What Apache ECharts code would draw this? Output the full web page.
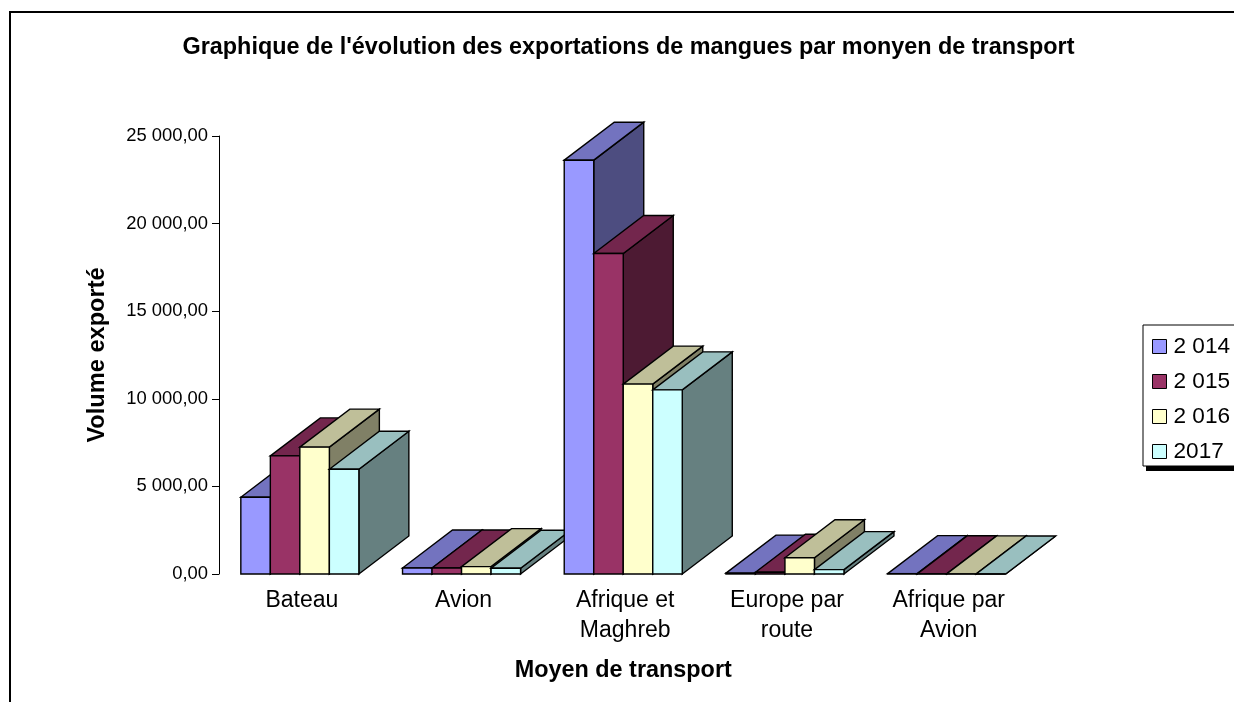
<!DOCTYPE html>
<html><head><meta charset="utf-8">
<style>html,body{margin:0;padding:0;background:#fff}#c{width:1234px;height:702px}</style>
<script src="https://cdn.jsdelivr.net/npm/echarts@6/dist/echarts.min.js"></script>
</head><body><div id="c"></div>
<script>
const categories = ['Bateau','Avion','Afrique et\nMaghreb','Europe par\nroute','Afrique par\nAvion'];
const yearNames = ['2 014','2 015','2 016','2017'];
const values2014 = [4380, 340, 23620, 50, 20];
const values2015 = [6740, 340, 18290, 100, 10];
const values2016 = [7240, 420, 10840, 930, 5];
const values2017 = [5980, 325, 10510, 250, 0];
const frontColors = ['#9999FF','#993366','#FFFFCC','#CCFFFF'];
const topColors = ['#7373BF','#73264D','#BFBF99','#99BFBF'];
const sideColors = ['#4D4D80','#4D1A33','#808066','#668080'];
const allValues = [values2014, values2015, values2016, values2017];
const DEPTH_X = 50, DEPTH_Y = 38, CLUSTER_RATIO = 0.73;
const FONT = '"Liberation Sans", Arial, sans-serif';

function makeRender(s) {
  return function (params, api) {
    const cat = api.value(0), v = api.value(1);
    const base = api.coord([cat, 0]), head = api.coord([cat, v]);
    const w = api.size([1, 0])[0] * CLUSTER_RATIO / allValues.length;
    const x0 = base[0] - w * allValues.length / 2 + s * w, x1 = x0 + w;
    const yb = base[1], yt = head[1];
    const z = cat * 10 + s * 2;
    const style = c => ({ fill: c, stroke: '#000', lineWidth: 1.4, lineJoin: 'miter' });
    const poly = (pts, c, z2) => ({ type: 'polygon', shape: { points: pts }, style: style(c), z2: z + z2 });
    return { type: 'group', children: [
      poly([[x1, yb], [x1 + DEPTH_X, yb - DEPTH_Y], [x1 + DEPTH_X, yt - DEPTH_Y], [x1, yt]], sideColors[s], 0),
      poly([[x0, yt], [x0 + DEPTH_X, yt - DEPTH_Y], [x1 + DEPTH_X, yt - DEPTH_Y], [x1, yt]], topColors[s], 0),
      poly([[x0, yb], [x1, yb], [x1, yt], [x0, yt]], frontColors[s], 1)
    ]};
  };
}

const chart = echarts.init(document.getElementById('c'), null, { renderer: 'canvas' });
chart.setOption({
  animation: false,
  backgroundColor: '#fff',
  textStyle: { fontFamily: FONT, color: '#000' },
  title: {
    text: "Graphique de l'évolution des exportations de mangues par monyen de transport",
    left: 628.5, top: 36, textAlign: 'center', padding: 0,
    textStyle: { fontFamily: FONT, fontSize: 23.4, fontWeight: 'bold', color: '#000' }
  },
  legend: {
    orient: 'vertical', left: 1143, top: 325, padding: [9, 30, 2, 9],
    itemWidth: 14, itemHeight: 14, itemGap: 10, icon: 'rect',
    backgroundColor: '#fff', borderColor: '#000', borderWidth: 1,
    textStyle: { fontFamily: FONT, fontSize: 22.6, color: '#000', padding: [0, 0, 0, 2], lineHeight: 25 },
    itemStyle: { borderColor: '#000', borderWidth: 1 },
    data: yearNames
  },
  grid: { left: 219, top: 136, width: 808.5, height: 438, containLabel: false },
  xAxis: {
    type: 'category', data: categories, boundaryGap: true,
    name: 'Moyen de transport', nameLocation: 'middle', nameGap: 85,
    nameTextStyle: { fontFamily: FONT, fontSize: 23.4, fontWeight: 'bold', color: '#000' },
    axisLine: { show: false }, axisTick: { show: false }, splitLine: { show: false },
    axisLabel: { fontFamily: FONT, fontSize: 23, color: '#000', margin: 12, lineHeight: 30, interval: 0, padding: [0, 0, 0, 4] }
  },
  yAxis: {
    type: 'value', min: 0, max: 25000, interval: 5000,
    name: 'Volume exporté', nameLocation: 'middle', nameGap: 110, nameRotate: 90,
    nameTextStyle: { fontFamily: FONT, fontSize: 23.6, fontWeight: 'bold', color: '#000' },
    axisLine: { show: true, lineStyle: { color: '#000', width: 1 } },
    axisTick: { show: true, length: 7, lineStyle: { color: '#000', width: 1 } },
    splitLine: { show: false },
    axisLabel: { fontFamily: FONT, fontSize: 18.4, color: '#000', margin: 11,
      formatter: v => v.toLocaleString('fr-FR', { minimumFractionDigits: 2, maximumFractionDigits: 2 }).replace(/[\s\u00a0\u202f]/g, ' ') }
  },
  graphic: [
    { type: 'rect', silent: true, z: -1,
      shape: { x: 10, y: 12, width: 1400, height: 900 },
      style: { fill: 'transparent', stroke: '#000', lineWidth: 2 } },
    { type: 'rect', silent: true, z: 1,
      shape: { x: 1146, y: 330, width: 120, height: 141 },
      style: { fill: '#000' } }
  ],
  series: yearNames.map((name, s) => ({
    type: 'custom', name, coordinateSystem: 'cartesian2d', clip: false,
    itemStyle: { color: frontColors[s] },
    encode: { x: 0, y: 1 },
    renderItem: makeRender(s),
    data: allValues[s].map((v, i) => [i, v])
  }))
});
</script></body></html>
